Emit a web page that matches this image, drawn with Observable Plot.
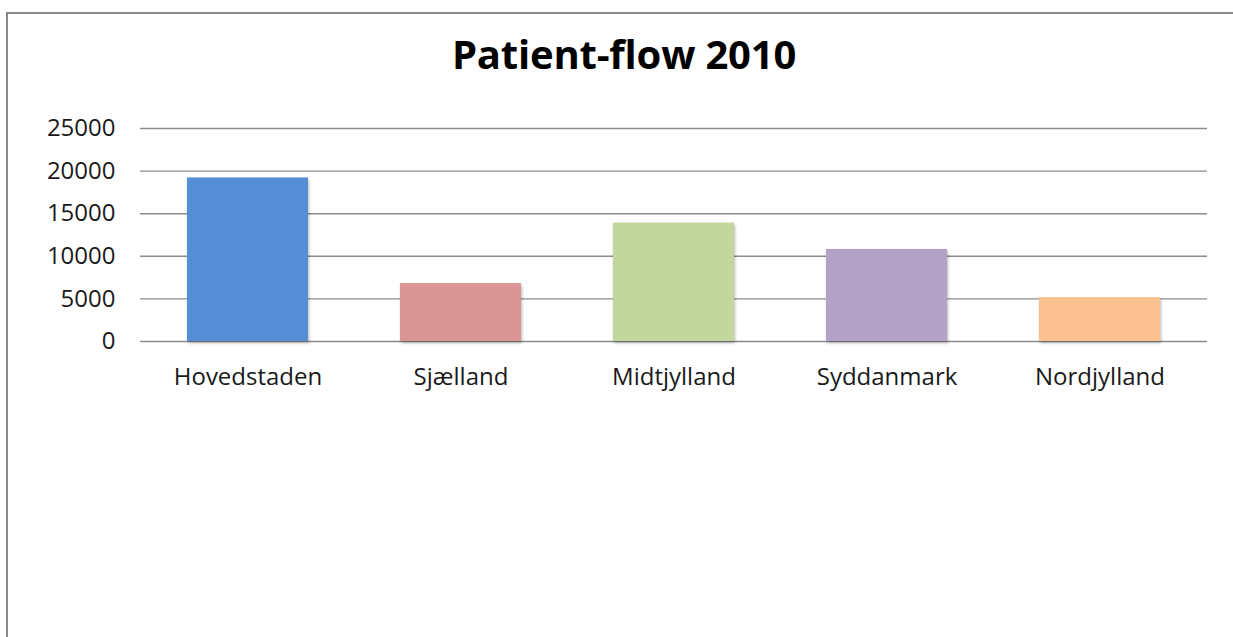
<!DOCTYPE html>
<html>
<head>
<meta charset="utf-8">
<script src="https://cdn.jsdelivr.net/npm/d3@7"></script>
<script src="https://cdn.jsdelivr.net/npm/@observablehq/plot@0.6"></script>
<style>
  html, body { margin: 0; padding: 0; background: #fff; overflow: hidden; }
  body { width: 1233px; height: 637px; position: relative; font-family: "Open Sans", sans-serif; }
  #bTop { position: absolute; left: 6px; top: 12px; width: 1227px; height: 2px; background: #8a8a8a; }
  #bLeft { position: absolute; left: 6px; top: 12px; width: 2px; height: 625px; background: #8a8a8a; }
  #title { position: absolute; left: 0; width: 1248px; top: 34px; text-align: center;
           font: 700 40px/40px "Open Sans", sans-serif; color: #000; letter-spacing: -0.2px; }
  #chart { position: absolute; left: 0; top: 0; }
  #chart svg .bars rect { filter: drop-shadow(1px 2px 1.5px rgba(0,0,0,0.28)); }
</style>
</head>
<body>
<div id="bTop"></div>
<div id="bLeft"></div>
<div id="title">Patient-flow 2010</div>
<div id="chart"></div>
<script>
const categories = ["Hovedstaden", "Sjælland", "Midtjylland", "Syddanmark", "Nordjylland"];
const values = [19200, 6800, 13900, 10800, 5150];
const colors = ["#558ED5", "#D99694", "#C3D69B", "#B3A2C7", "#FAC090"];
const yTicks = [0, 5000, 10000, 15000, 20000, 25000];

const data = categories.map((c, i) => ({region: c, value: values[i], color: colors[i]}));

const chart = Plot.plot({
  width: 1233,
  height: 420,
  marginLeft: 140,
  marginRight: 26,
  marginTop: 128,
  marginBottom: 79,
  style: {fontFamily: "Open Sans, sans-serif", color: "#1a1a1a", background: "transparent", overflow: "visible"},
  x: {domain: categories, paddingInner: 0.433, paddingOuter: 0.2165, label: null},
  y: {domain: [0, 25000], label: null},
  marks: [
    Plot.ruleY(yTicks, {stroke: "#8c8c8c", strokeWidth: 1.4}),
    Plot.barY(data, {x: "region", y: "value", fill: "color", className: "bars"}),
    Plot.axisY({ticks: yTicks, tickSize: 0, tickPadding: 25, fontSize: 24, label: null, tickFormat: d => String(d)}),
    Plot.axisX({tickSize: 0, tickPadding: 26, fontSize: 24, label: null})
  ]
});
document.getElementById("chart").appendChild(chart);
</script>
</body>
</html>
